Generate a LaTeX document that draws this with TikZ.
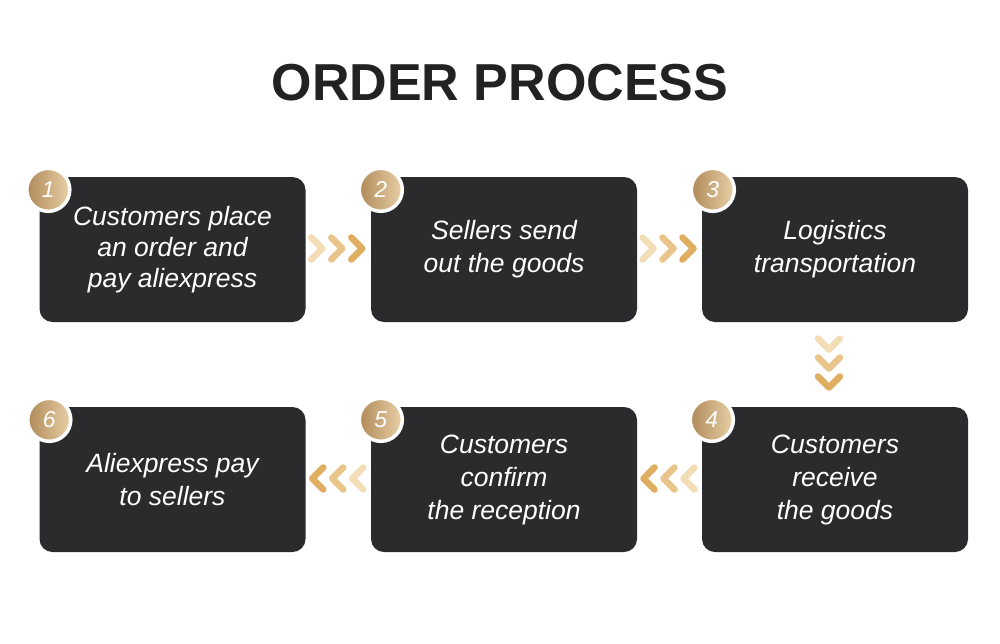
\documentclass[tikz,border=0pt]{standalone}
\usepackage{fontspec}
\setmainfont{Liberation Sans}
\usetikzlibrary{calc}
\definecolor{boxc}{HTML}{2B2B2D}
\definecolor{titlec}{HTML}{222222}
\definecolor{goldA}{HTML}{B08A5A}
\definecolor{goldB}{HTML}{E8D0A6}
\definecolor{chL}{HTML}{F3DDB6}
\definecolor{chM}{HTML}{EAC58B}
\definecolor{chD}{HTML}{DFAE60}
\begin{document}
\begin{tikzpicture}[x=1pt,y=-1pt]
\tikzset{
  stepbox/.style={fill=boxc, rounded corners=13pt, minimum width=266pt, minimum height=145pt,
    inner sep=0pt, text=white, font=\fontsize{26.5}{33}\selectfont\itshape, align=center},
  numc/.style={circle, minimum size=43pt, inner sep=0pt, draw=white, line width=3.5pt,
    left color=goldA, right color=goldB, text=white, font=\fontsize{23}{23}\selectfont\itshape},
  chev/.style={line width=6.5pt, line cap=round, line join=round},
  chevR/.pic={\draw[chev] (-6,-11) -- (5,0) -- (-6,11);},
  chevL/.pic={\draw[chev] (6,-11) -- (-5,0) -- (6,11);},
  chevD/.pic={\draw[chev] (-11,-6) -- (0,5) -- (11,-6);},
}
\useasboundingbox[fill=white] (0,0) rectangle (1000,643);

\node[anchor=base, text=titlec, font=\fontsize{52}{52}\selectfont\bfseries] (title) at (500,100) {ORDER PROCESS};

\node[stepbox, font=\fontsize{26.5}{31}\selectfont\itshape] (b1) at (172.5,249.5) {Customers place\\an order and\\pay aliexpress};
\node[stepbox] (b2) at (504,249.5) {Sellers send\\out the goods};
\node[stepbox] (b3) at (835,249.5) {Logistics\\transportation};
\node[stepbox] (b4) at (835,479.5) {Customers\\receive\\the goods};
\node[stepbox] (b5) at (504,479.5) {Customers\\confirm\\the reception};
\node[stepbox] (b6) at (172.5,479.5) {Aliexpress pay\\to sellers};

\node[numc] (n1) at ($(b1.north west)+(9,13)$) {1};
\node[numc] (n2) at ($(b2.north west)+(10,13)$) {2};
\node[numc] (n3) at ($(b3.north west)+(11,13)$) {3};
\node[numc] (n4) at ($(b4.north west)+(10,13)$) {4};
\node[numc] (n5) at ($(b5.north west)+(10,13)$) {5};
\node[numc] (n6) at ($(b6.north west)+(10,13)$) {6};

\coordinate (g12) at ($(b1.east)!.5!(b2.west)$);
\coordinate (g23) at ($(b2.east)!.5!(b3.west)$);
\coordinate (g34) at ($(b3.south)!.5!(b4.north)$);
\coordinate (g54) at ($(b5.east)!.5!(b4.west)$);
\coordinate (g65) at ($(b6.east)!.5!(b5.west)$);

\foreach \g in {g12,g23}{
  \pic[color=chL] at ($(\g)+(-21,-1)$) {chevR};
  \pic[color=chM] at ($(\g)+(-1,-1)$) {chevR};
  \pic[color=chD] at ($(\g)+(19,-1)$) {chevR};
}
\pic[color=chL] at ($(g34)+(-6,-20)$) {chevD};
\pic[color=chM] at ($(g34)+(-6,-1)$) {chevD};
\pic[color=chD] at ($(g34)+(-6,18)$) {chevD};
\foreach \g in {g54,g65}{
  \pic[color=chD] at ($(\g)+(-21,-1)$) {chevL};
  \pic[color=chM] at ($(\g)+(-1,-1)$) {chevL};
  \pic[color=chL] at ($(\g)+(19,-1)$) {chevL};
}
\end{tikzpicture}
\end{document}
